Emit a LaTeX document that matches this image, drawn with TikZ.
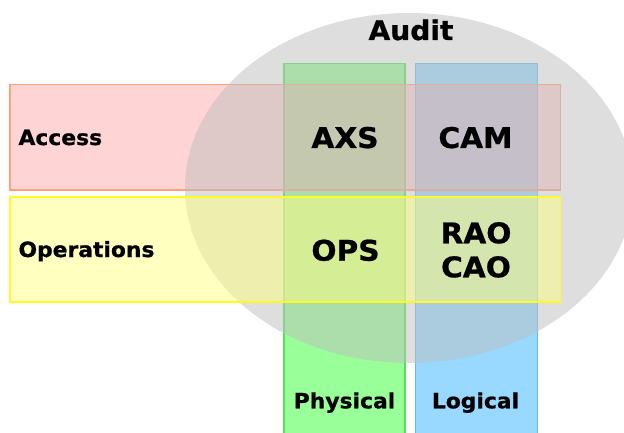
\documentclass[tikz,border=0pt]{standalone}
\usepackage{fontspec}
\setmainfont{DejaVu Sans}[BoldFont={DejaVu Sans Bold},BoldFeatures={FakeBold=0.8},FakeStretch=1.04]
\definecolor{gfill}{RGB}{153,255,153}
\definecolor{gline}{RGB}{90,225,90}
\definecolor{bfill}{RGB}{153,217,255}
\definecolor{bline}{RGB}{100,190,235}
\definecolor{pfill}{RGB}{255,170,170}
\definecolor{pline}{RGB}{255,160,120}
\definecolor{yfill}{RGB}{255,255,128}
\definecolor{yline}{RGB}{255,250,40}
\definecolor{efill}{RGB}{190,190,190}
\tikzset{
  big/.style={font=\fontsize{28.5}{30}\selectfont\bfseries, inner sep=0pt, anchor=base},
  lbl/.style={font=\fontsize{21}{23}\selectfont\bfseries, inner sep=0pt},
  ttl/.style={font=\fontsize{27}{29}\selectfont\bfseries, inner sep=0pt, anchor=base},
}
\begin{document}
\begin{tikzpicture}[x=1pt,y=-1pt]
\clip (0,0) rectangle (624,433);
\fill[white] (0,0) rectangle (624,433);
% columns
\filldraw[fill=gfill, draw=gline, line width=1.2pt] (284,63.5) rectangle (405,445);
\filldraw[fill=bfill, draw=bline, line width=1.2pt] (415.5,63.5) rectangle (537.5,445);
% access row
\fill[pfill, opacity=0.5] (10,84.5) rectangle (560.5,190);
\draw[pline, line width=1.2pt] (10,84.5) rectangle (560.5,190);
% audit ellipse
\fill[efill, opacity=0.5] (409,188) ellipse [x radius=224, y radius=175];
% operations row
\fill[yfill, opacity=0.5] (10,197) rectangle (560.5,302);
\draw[yline, line width=1.2pt] (10,197) rectangle (560.5,302);
% texts
\node[ttl] (audit) at (411,40) {Audit};
\node[big] (axs) at (345,148) {AXS};
\node[big] (cam) at (475.5,148) {CAM};
\node[big] (ops) at (345.5,260.7) {OPS};
\node[big] (rao) at (476,243.3) {RAO};
\node[big] (cao) at (476,277.3) {CAO};
\node[lbl, anchor=base west] (access) at (18.3,145) {Access};
\node[lbl, anchor=base west] (operations) at (18.3,257) {Operations};
\node[lbl, anchor=base] (physical) at (344.5,408.3) {Physical};
\node[lbl, anchor=base] (logical) at (475.5,408.3) {Logical};
\end{tikzpicture}
\end{document}
